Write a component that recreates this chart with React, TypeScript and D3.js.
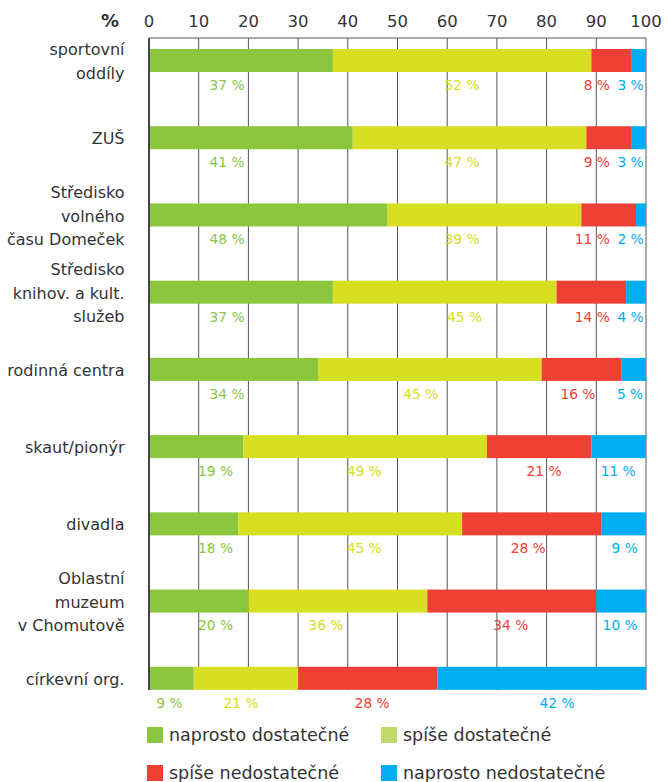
import React from "react";
import * as d3 from "d3";

const categories: string[][] = [
  ["sportovní", "oddíly"],
  ["ZUŠ"],
  ["Středisko", "volného", "času Domeček"],
  ["Středisko", "knihov. a kult.", "služeb"],
  ["rodinná centra"],
  ["skaut/pionýr"],
  ["divadla"],
  ["Oblastní", "muzeum", "v Chomutově"],
  ["církevní org."],
];

const naprostoDostatecne = [37, 41, 48, 37, 34, 19, 18, 20, 9];
const spiseDostatecne = [52, 47, 39, 45, 45, 49, 45, 36, 21];
const spiseNedostatecne = [8, 9, 11, 14, 16, 21, 28, 34, 28];
const naprostoNedostatecne = [3, 3, 2, 4, 5, 11, 9, 10, 42];

const seriesNames = [
  "naprosto dostatečné",
  "spíše dostatečné",
  "spíše nedostatečné",
  "naprosto nedostatečné",
];

const tickValues = [0, 10, 20, 30, 40, 50, 60, 70, 80, 90, 100];

// label anchor positions (in axis units %)
const labelAt: number[][] = [
  [15.7, 63, 90.1, 96.9],
  [15.7, 63, 90.1, 96.9],
  [15.7, 63, 89.2, 96.9],
  [15.7, 63.5, 89.2, 96.9],
  [15.7, 54.7, 86.3, 96.8],
  [13.4, 43.3, 79.5, 94.4],
  [13.4, 43.3, 76.3, 95.7],
  [13.4, 35.6, 72.8, 94.8],
  [4.1, 18.5, 44.9, 82.1],
];

const barColors = ["#8cc63f", "#d6df21", "#ef4036", "#00aeef"];
const legendColors = ["#8cc63f", "#c2da6b", "#ef4036", "#00aeef"];

const W = 668;
const H = 782;
const FONT = "'DejaVu Sans', Verdana, sans-serif";

export default function App() {
  const x = d3.scaleLinear().domain([0, 100]).range([149, 646]);
  const keys = categories.map((_, i) => String(i));
  const y = d3.scalePoint<string>().domain(keys).range([60.5, 678.3]);
  const barH = 23;
  const plotTop = 38;
  const plotBottom = 690;

  const rows = categories.map((_, i) => [
    naprostoDostatecne[i],
    spiseDostatecne[i],
    spiseNedostatecne[i],
    naprostoNedostatecne[i],
  ]);
  const stackData = rows.map((r, i) => ({ key: String(i), a: r[0], b: r[1], c: r[2], d: r[3] }));
  const stack = d3.stack<any>().keys(["a", "b", "c", "d"]);
  const stacked = stack(stackData);

  return (
    <svg
      width={W}
      height={H}
      style={{ position: "absolute", left: 0, top: 0, background: "#fff" }}
      fontFamily={FONT}
    >
      {/* gridlines */}
      {tickValues.slice(1).map((t) => (
        <line
          key={"g" + t}
          x1={x(t)}
          x2={x(t)}
          y1={plotTop}
          y2={plotBottom}
          stroke="#555"
          strokeWidth={1}
        />
      ))}
      <line x1={x(0)} x2={x(100)} y1={plotTop} y2={plotTop} stroke="#555" strokeWidth={1} />
      {/* tick labels */}
      {tickValues.map((t) => (
        <text
          key={"t" + t}
          x={x(t)}
          y={21}
          dy="0.35em"
          textAnchor="middle"
          fontSize={16.5}
          fill="#333"
        >
          {t}
        </text>
      ))}
      <text x={119} y={21} dy="0.35em" textAnchor="end" fontSize={18} fontWeight={700} fill="#333">
        %
      </text>

      {/* bars */}
      {stacked.map((s, si) =>
        s.map((d, i) => (
          <rect
            key={`b${si}-${i}`}
            x={x(d[0])}
            y={(y(String(i)) as number) - barH / 2}
            width={x(d[1]) - x(d[0])}
            height={barH}
            fill={barColors[si]}
          />
        ))
      )}
      {/* left axis */}
      <line x1={x(0)} x2={x(0)} y1={plotTop} y2={plotBottom} stroke="#444" strokeWidth={2} />

      {/* value labels */}
      {rows.map((r, i) =>
        r.map((v, si) => (
          <text
            key={`l${si}-${i}`}
            x={x(labelAt[i][si])}
            y={(y(String(i)) as number) + barH / 2 + 13}
            dy="0.35em"
            textAnchor="middle"
            fontSize={13.8}
            fill={barColors[si]}
          >
            {v} %
          </text>
        ))
      )}

      {/* category labels */}
      {categories.map((lines, i) => {
        const cy = y(String(i)) as number;
        const lh = 23.5;
        const start = cy - ((lines.length - 1) * lh) / 2;
        return (
          <text key={"c" + i} textAnchor="end" fontSize={16} fill="#333">
            {lines.map((ln, k) => (
              <tspan key={k} x={124.5} y={start + k * lh + 1} dy="0.35em">
                {ln}
              </tspan>
            ))}
          </text>
        );
      })}

      {/* legend */}
      {seriesNames.map((name, i) => {
        const col = i % 2;
        const row = Math.floor(i / 2);
        const lx = col === 0 ? 147 : 381;
        const ly = row === 0 ? 735 : 773;
        return (
          <g key={"lg" + i}>
            <rect x={lx} y={ly - 8} width={16} height={16} fill={legendColors[i]} />
            <text x={lx + 22} y={ly} dy="0.35em" fontSize={17.5} fill="#333">
              {name}
            </text>
          </g>
        );
      })}
    </svg>
  );
}
